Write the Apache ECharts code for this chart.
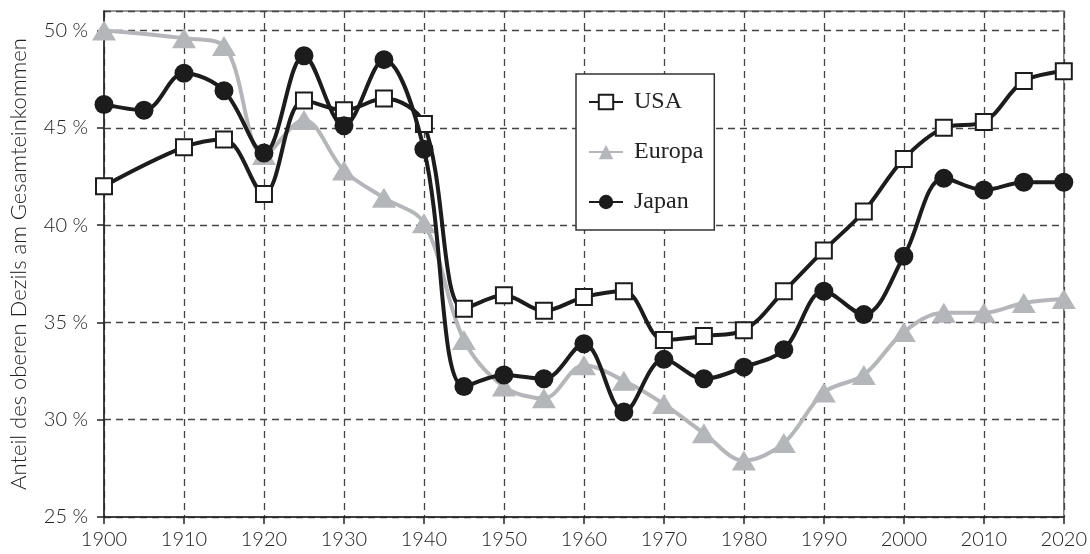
<!DOCTYPE html>
<html>
<head>
<meta charset="utf-8">
<script src="https://cdn.jsdelivr.net/npm/echarts@6/dist/echarts.min.js"></script>
<style>
html,body{margin:0;padding:0;background:#fff;}
#c{width:1090px;height:554px;}
</style>
</head>
<body>
<div id="c"></div>
<script>
const usaYears = [1900,1910,1915,1920,1925,1930,1935,1940,1945,1950,1955,1960,1965,1970,1975,1980,1985,1990,1995,2000,2005,2010,2015,2020];
const usaValues = [42.0,44.0,44.4,41.6,46.4,45.9,46.5,45.2,35.7,36.4,35.6,36.3,36.6,34.1,34.3,34.6,36.6,38.7,40.7,43.4,45.0,45.3,47.4,47.9];

const europaYears = [1900,1910,1915,1920,1925,1930,1935,1940,1945,1950,1955,1960,1965,1970,1975,1980,1985,1990,1995,2000,2005,2010,2015,2020];
const europaValues = [50.0,49.6,49.2,43.6,45.4,42.8,41.4,40.1,34.1,31.7,31.1,32.8,32.0,30.8,29.3,27.9,28.8,31.4,32.3,34.5,35.5,35.5,36.0,36.2];

const japanYears = [1900,1905,1910,1915,1920,1925,1930,1935,1940,1945,1950,1955,1960,1965,1970,1975,1980,1985,1990,1995,2000,2005,2010,2015,2020];
const japanValues = [46.2,45.9,47.8,46.9,43.7,48.7,45.1,48.5,43.9,31.7,32.3,32.1,33.9,30.4,33.1,32.1,32.7,33.6,36.6,35.4,38.4,42.4,41.8,42.2,42.2];

const seriesNames = ['USA','Europa','Japan'];
const yTicks = [25,30,35,40,45,50];
const xTicks = [1900,1910,1920,1930,1940,1950,1960,1970,1980,1990,2000,2010,2020];
const yAxisTitle = 'Anteil des oberen Dezils am Gesamteinkommen';

const pair = (xs, vs) => xs.map((x, i) => [x, vs[i]]);

const chart = echarts.init(document.getElementById('c'), null, {renderer:'canvas'});
const sansFont = 'Lato';
chart.setOption({
  animation: false,
  backgroundColor: '#fff',
  grid: {left: 100, right: 23, top: 11, bottom: 37, show: true, borderColor: '#777', borderWidth: 1.5, backgroundColor: 'transparent'},
  legend: {
    data: seriesNames,
    orient: 'vertical',
    left: 576, top: 74,
    padding: [16, 11, 16, 12],
    itemGap: 26,
    itemWidth: 34,
    itemHeight: 18,
    backgroundColor: '#fff',
    borderColor: '#333',
    borderWidth: 1.5,
    borderRadius: 0,
    textStyle: {fontFamily: 'Liberation Serif', fontSize: 24, color: '#222', padding: [0,0,0,6]}
  },
  xAxis: {
    type: 'value', min: 1900, max: 2020, interval: 10,
    axisLine: {show: true, lineStyle: {color: '#222', width: 1.5}},
    axisTick: {show: true, length: 7, lineStyle: {color: '#222', width: 1.5}},
    axisLabel: {fontFamily: sansFont, fontWeight: 300, fontSize: 20, color: '#222', margin: 13,
      formatter: v => xTicks.includes(v) ? String(v) : ''},
    splitLine: {show: true, lineStyle: {color: '#444', width: 1.3, type: [7, 5]}}
  },
  yAxis: {
    type: 'value', min: 25, max: 51, interval: 5,
    name: yAxisTitle, nameLocation: 'middle', nameGap: 74,
    nameTextStyle: {fontFamily: sansFont, fontWeight: 300, fontSize: 22, color: '#222'},
    axisLine: {show: true, lineStyle: {color: '#222', width: 1.5}},
    axisTick: {show: true, length: 7, lineStyle: {color: '#222', width: 1.5}},
    axisLabel: {fontFamily: sansFont, fontWeight: 300, fontSize: 20, color: '#222', margin: 16, showMaxLabel: false,
      formatter: v => yTicks.includes(v) ? v + ' %' : ''},
    splitLine: {show: true, lineStyle: {color: '#444', width: 1.3, type: [7, 5]}}
  },
  series: [
    {
      name: 'Europa', type: 'line', smooth: 0.35, z: 2,
      data: pair(europaYears, europaValues),
      symbol: 'triangle', symbolSize: [24, 20],
      lineStyle: {color: '#b5b6b9', width: 4},
      itemStyle: {color: '#b5b6b9', borderWidth: 0}
    },
    {
      name: 'USA', type: 'line', smooth: 0.35, z: 3,
      data: pair(usaYears, usaValues),
      symbol: 'rect', symbolSize: 16,
      lineStyle: {color: '#1c1c1c', width: 4},
      itemStyle: {color: '#fff', borderColor: '#1c1c1c', borderWidth: 2}
    },
    {
      name: 'Japan', type: 'line', smooth: 0.35, z: 4,
      data: pair(japanYears, japanValues),
      symbol: 'circle', symbolSize: 19,
      lineStyle: {color: '#1c1c1c', width: 4},
      itemStyle: {color: '#1c1c1c', borderWidth: 0}
    }
  ]
});
</script>
</body>
</html>
